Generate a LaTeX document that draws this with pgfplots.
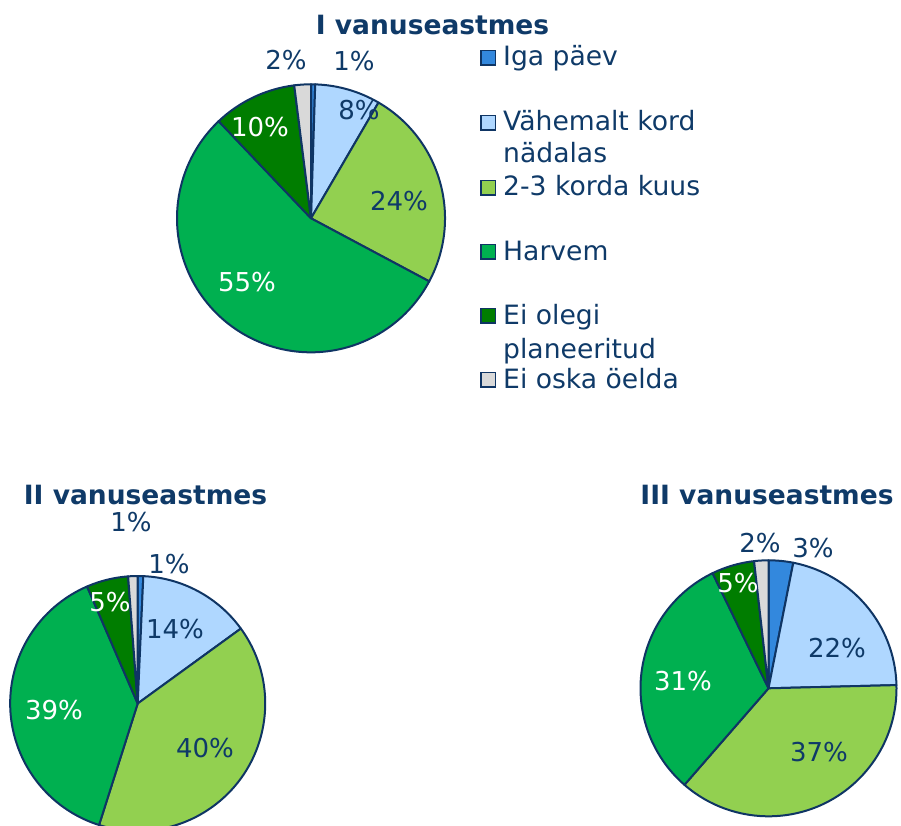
\documentclass[border=0pt]{standalone}
\usepackage{pgfplots}
\pgfplotsset{compat=1.18}
\usepackage{pgfplotstable}
\usepackage{fontspec}
\setmainfont{DejaVu Sans}

\definecolor{txt}{HTML}{0F3A68}
\definecolor{edge}{HTML}{0F3564}
\definecolor{cIga}{HTML}{3388DD}
\definecolor{cNad}{HTML}{AFD7FF}
\definecolor{cKuu}{HTML}{92D050}
\definecolor{cHar}{HTML}{00B050}
\definecolor{cPla}{HTML}{007D00}
\definecolor{cEos}{HTML}{D9D9D9}

\newcommand\lblfont{\fontsize{26}{31}\selectfont}
\newcommand\legfont{\fontsize{26.6}{32}\selectfont}
\newcommand\ttlfont{\fontsize{26.5}{32}\selectfont\bfseries}

% I vanuseastmes
\pgfplotstableread{
val  col  lab lc    lx  ly
0.5  cIga 1   txt   354 61
7.9  cNad 8   txt   359 110
24.4 cKuu 24  txt   399 201
55.1 cHar 55  white 247 282
10.1 cPla 10  white 260 127
2.0  cEos 2   txt   286 60
}\tblI
% II vanuseastmes
\pgfplotstableread{
val  col  lab lc    lx  ly
0.7  cIga 1   txt   169 564
14.3 cNad 14  txt   175 629
39.9 cKuu 40  txt   205 748
38.6 cHar 39  white 54  710
5.3  cPla 5   white 110 602
1.2  cEos 1   txt   131 522.5
}\tblII
% III vanuseastmes
\pgfplotstableread{
val  col  lab lc    lx  ly
3.1  cIga 3   txt   813 548
21.5 cNad 22  txt   837 648
36.8 cKuu 37  txt   819 752
31.4 cHar 31  white 683 681
5.4  cPla 5   white 738 583
1.8  cEos 2   txt   760 543
}\tblIII

\newcommand\drawpie[4]{% table, cx, cy, r
  \pgfplotstablegetrowsof{#1}%
  \pgfmathtruncatemacro\lastrow{\pgfplotsretval-1}%
  \def\cum{0}%
  \pgfplotsforeachungrouped \rowi in {0,...,\lastrow}{%
    \pgfplotstablegetelem{\rowi}{val}\of{#1}\let\sliceVal\pgfplotsretval
    \pgfplotstablegetelem{\rowi}{col}\of{#1}\let\sliceCol\pgfplotsretval
    \pgfmathsetmacro\angA{90-3.6*\cum}%
    \pgfmathsetmacro\cum{\cum+\sliceVal}%
    \pgfmathsetmacro\angB{90-3.6*\cum}%
    \edef\temp{\noexpand\filldraw[fill=\sliceCol,draw=edge,line width=2pt,line join=round]
      (axis cs:#2,#3) -- ++(\angA:#4pt) arc[start angle=\angA,end angle=\angB,radius=#4pt] -- cycle;}%
    \temp
  }%
  \pgfplotsforeachungrouped \rowi in {0,...,\lastrow}{%
    \pgfplotstablegetelem{\rowi}{lab}\of{#1}\let\labTxt\pgfplotsretval
    \pgfplotstablegetelem{\rowi}{lc}\of{#1}\let\labCol\pgfplotsretval
    \pgfplotstablegetelem{\rowi}{lx}\of{#1}\let\labX\pgfplotsretval
    \pgfplotstablegetelem{\rowi}{ly}\of{#1}\let\labY\pgfplotsretval
    \edef\temp{\noexpand\node[text=\labCol,font=\noexpand\lblfont,inner sep=0pt,anchor=center]
      at (axis cs:\labX,\labY) {\labTxt\noexpand\%};}%
    \temp
  }%
}

\newcommand\legitem[3]{% baseline y, color, text
  \filldraw[fill=#2,draw=edge,line width=1.6pt] (axis cs:481,#1-15.5) rectangle (axis cs:495.5,#1-1);
  \node[text=txt,font=\legfont,anchor=base west,inner sep=0pt] at (axis cs:503,#1) {#3};
}

\begin{document}
\begin{tikzpicture}
\begin{axis}[
  width=901pt, height=826pt, scale only axis,
  xmin=0, xmax=901, ymin=0, ymax=826, y dir=reverse,
  enlargelimits=false, hide axis, clip=true
]
\coordinate (SW) at (axis cs:0,826);
\coordinate (NE) at (axis cs:901,0);

\drawpie{\tblI}{311}{218.3}{134}
\drawpie{\tblII}{137.7}{703.5}{127.5}
\drawpie{\tblIII}{768.5}{688.3}{128}

\node[text=txt,font=\ttlfont,inner sep=0pt] at (axis cs:432.5,25) {I vanuseastmes};
\node[text=txt,font=\ttlfont,inner sep=0pt] at (axis cs:145.5,495.5) {II vanuseastmes};
\node[text=txt,font=\ttlfont,inner sep=0pt] at (axis cs:767,495) {III vanuseastmes};

\legitem{66}{cIga}{Iga päev}
\legitem{131}{cNad}{Vähemalt kord}
\node[text=txt,font=\legfont,anchor=base west,inner sep=0pt] at (axis cs:503,163) {nädalas};
\legitem{196}{cKuu}{2-3 korda kuus}
\legitem{260}{cHar}{Harvem}
\legitem{324}{cPla}{Ei olegi}
\node[text=txt,font=\legfont,anchor=base west,inner sep=0pt] at (axis cs:503,358) {planeeritud};
\legitem{388}{cEos}{Ei oska öelda}
\end{axis}
\pgfresetboundingbox
\path (SW) rectangle (NE);
\end{tikzpicture}
\end{document}
